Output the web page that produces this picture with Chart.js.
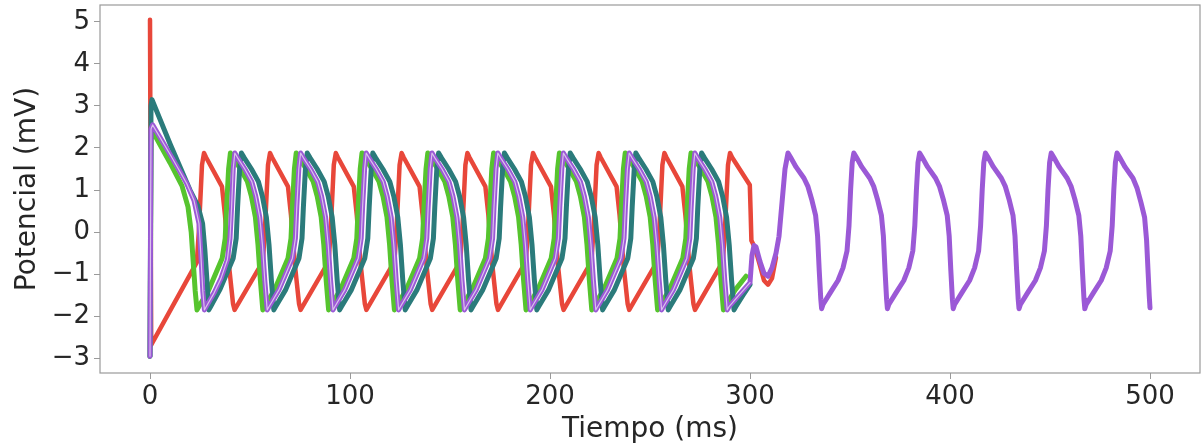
<!DOCTYPE html>
<html>
<head>
<meta charset="utf-8">
<script src="https://cdn.jsdelivr.net/npm/chart.js@4/dist/chart.umd.min.js"></script>
<style>
  html, body { margin: 0; padding: 0; background: #fff; }
  #wrap { width: 1203px; height: 448px; position: relative; }
</style>
</head>
<body>
<div id="wrap"><canvas id="chart"></canvas></div>
<script>
// ---- data: [tiempo (ms), potencial (mV)] ----
var xTicks = [0, 100, 200, 300, 400, 500];
var yTicks = [-3, -2, -1, 0, 1, 2, 3, 4, 5];

var redPts = [
  [0,5.05],[0.6,-2.68],[23.4,-0.72],[24.4,0.0],[26.0,1.6],
  [27.0,1.88],[28.0,1.78],[36.0,1.08],[37.5,0.4],[39.5,-0.8],[41.5,-1.7],[42.3,-1.85],[56.4,-0.7],[57.4,0.0],[59.0,1.6],
  [60.0,1.88],[61.0,1.78],[69.0,1.08],[70.5,0.4],[72.5,-0.8],[74.5,-1.7],[75.3,-1.85],[89.3,-0.7],[90.3,0.0],[91.9,1.6],
  [92.9,1.88],[93.9,1.78],[101.9,1.08],[103.4,0.4],[105.4,-0.8],[107.4,-1.7],[108.2,-1.85],[122.2,-0.7],[123.2,0.0],[124.8,1.6],
  [125.8,1.88],[126.8,1.78],[134.8,1.08],[136.3,0.4],[138.3,-0.8],[140.3,-1.7],[141.1,-1.85],[155.1,-0.7],[156.1,0.0],[157.7,1.6],
  [158.7,1.88],[159.7,1.78],[167.7,1.08],[169.2,0.4],[171.2,-0.8],[173.2,-1.7],[174.0,-1.85],[187.9,-0.7],[188.9,0.0],[190.5,1.6],
  [191.5,1.88],[192.5,1.78],[200.5,1.08],[202.0,0.4],[204.0,-0.8],[206.0,-1.7],[206.8,-1.85],[220.7,-0.7],[221.7,0.0],[223.3,1.6],
  [224.3,1.88],[225.3,1.78],[233.3,1.08],[234.8,0.4],[236.8,-0.8],[238.8,-1.7],[239.6,-1.85],[253.6,-0.7],[254.6,0.0],[256.2,1.6],
  [257.2,1.88],[258.2,1.78],[266.2,1.08],[267.7,0.4],[269.7,-0.8],[271.7,-1.7],[272.5,-1.85],[286.4,-0.7],[287.4,0.0],[289.0,1.6],
  [290.0,1.88],[291.0,1.78],[299.9,1.12],[300.3,0.5],[300.7,-0.2],[302.5,-0.38],[305,-0.8],[307,-1.15],[309,-1.25],[311,-1.1],[313,-0.6]
];

var greenPts = [
  [0,-2.95],[0.6,2.3],[1.3,2.4],[10,1.65],[16,1.1],[19,0.6],[20.6,0.0],[21.6,-0.7],[22.6,-1.4],[23.5,-1.85],
  [24.3,-1.78],[29.3,-1.38],[36.1,-0.62],[37.6,-0.15],[38.3,0.6],[39.3,1.5],
  [40.2,1.88],[41.7,1.76],[45.2,1.5],[48.7,1.2],[50.7,0.85],[52.7,0.35],[54.0,-0.3],[55.2,-1.15],[56.4,-1.85],[57.2,-1.78],[62.2,-1.38],[69.0,-0.62],[70.5,-0.15],[71.2,0.6],[72.2,1.5],
  [73.1,1.88],[74.6,1.76],[78.1,1.5],[81.6,1.2],[83.6,0.85],[85.6,0.35],[86.9,-0.3],[88.1,-1.15],[89.3,-1.85],[90.1,-1.78],[95.1,-1.38],[101.9,-0.62],[103.4,-0.15],[104.1,0.6],[105.1,1.5],
  [106.0,1.88],[107.5,1.76],[111.0,1.5],[114.5,1.2],[116.5,0.85],[118.5,0.35],[119.8,-0.3],[121.0,-1.15],[122.2,-1.85],[123.0,-1.78],[128.0,-1.38],[134.8,-0.62],[136.3,-0.15],[137.0,0.6],[138.0,1.5],
  [138.9,1.88],[140.4,1.76],[143.9,1.5],[147.4,1.2],[149.4,0.85],[151.4,0.35],[152.7,-0.3],[153.9,-1.15],[155.1,-1.85],[155.9,-1.78],[160.9,-1.38],[167.7,-0.62],[169.2,-0.15],[169.9,0.6],[170.9,1.5],
  [171.8,1.88],[173.3,1.76],[176.8,1.5],[180.3,1.2],[182.3,0.85],[184.3,0.35],[185.6,-0.3],[186.8,-1.15],[188.0,-1.85],[188.8,-1.78],[193.8,-1.38],[200.6,-0.62],[202.1,-0.15],[202.8,0.6],[203.8,1.5],
  [204.7,1.88],[206.2,1.76],[209.7,1.5],[213.2,1.2],[215.2,0.85],[217.2,0.35],[218.5,-0.3],[219.7,-1.15],[220.9,-1.85],[221.7,-1.78],[226.7,-1.38],[233.5,-0.62],[235.0,-0.15],[235.7,0.6],[236.7,1.5],
  [237.6,1.88],[239.1,1.76],[242.6,1.5],[246.1,1.2],[248.1,0.85],[250.1,0.35],[251.4,-0.3],[252.6,-1.15],[253.8,-1.85],[254.6,-1.78],[259.6,-1.38],[266.4,-0.62],[267.9,-0.15],[268.6,0.6],[269.6,1.5],
  [270.5,1.88],[272.0,1.76],[275.5,1.5],[279.0,1.2],[281.0,0.85],[283.0,0.35],[284.3,-0.3],[285.5,-1.15],[286.7,-1.85],[287.5,-1.78],[292.5,-1.38],[298.0,-1.05]
];

var tealPts = [
  [0,-2.95],[0.5,3.0],[1.0,3.15],[10,2.1],[20,1.0],[24,0.62],[26.3,0.2],[27.4,-0.4],[28.4,-1.1],[29.4,-1.85],
  [30.2,-1.78],[34.8,-1.38],[41.6,-0.62],[43.1,-0.15],[43.8,0.6],[44.8,1.5],
  [45.7,1.88],[47.2,1.76],[50.7,1.5],[54.2,1.2],[56.2,0.85],[58.2,0.35],[59.5,-0.3],[60.7,-1.15],[61.9,-1.85],[62.7,-1.78],[67.7,-1.38],[74.5,-0.62],[76.0,-0.15],[76.7,0.6],[77.7,1.5],
  [78.6,1.88],[80.1,1.76],[83.6,1.5],[87.1,1.2],[89.1,0.85],[91.1,0.35],[92.4,-0.3],[93.6,-1.15],[94.8,-1.85],[95.6,-1.78],[100.6,-1.38],[107.4,-0.62],[108.9,-0.15],[109.6,0.6],[110.6,1.5],
  [111.4,1.88],[112.9,1.76],[116.4,1.5],[119.9,1.2],[121.9,0.85],[123.9,0.35],[125.2,-0.3],[126.4,-1.15],[127.6,-1.85],[128.4,-1.78],[133.4,-1.38],[140.2,-0.62],[141.7,-0.15],[142.4,0.6],[143.4,1.5],
  [144.3,1.88],[145.8,1.76],[149.3,1.5],[152.8,1.2],[154.8,0.85],[156.8,0.35],[158.1,-0.3],[159.3,-1.15],[160.5,-1.85],[161.3,-1.78],[166.3,-1.38],[173.1,-0.62],[174.6,-0.15],[175.3,0.6],[176.3,1.5],
  [177.2,1.88],[178.7,1.76],[182.2,1.5],[185.7,1.2],[187.7,0.85],[189.7,0.35],[191.0,-0.3],[192.2,-1.15],[193.4,-1.85],[194.2,-1.78],[199.2,-1.38],[206.0,-0.62],[207.5,-0.15],[208.2,0.6],[209.2,1.5],
  [210.1,1.88],[211.6,1.76],[215.1,1.5],[218.6,1.2],[220.6,0.85],[222.6,0.35],[223.9,-0.3],[225.1,-1.15],[226.3,-1.85],[227.1,-1.78],[232.1,-1.38],[238.9,-0.62],[240.4,-0.15],[241.1,0.6],[242.1,1.5],
  [242.9,1.88],[244.4,1.76],[247.9,1.5],[251.4,1.2],[253.4,0.85],[255.4,0.35],[256.7,-0.3],[257.9,-1.15],[259.1,-1.85],[259.9,-1.78],[264.9,-1.38],[271.7,-0.62],[273.2,-0.15],[273.9,0.6],[274.9,1.5],
  [275.8,1.88],[277.3,1.76],[280.8,1.5],[284.3,1.2],[286.3,0.85],[288.3,0.35],[289.6,-0.3],[290.8,-1.15],[292.0,-1.85],[292.8,-1.78],[296.5,-1.5],[300,-1.25]
];

var purplePts = [
  [0,-2.95],[0.5,2.45],[1.3,2.55],[10,1.85],[18.3,1.16],[22,0.75],[24.5,0.2],[25.5,-0.6],[26.4,-1.4],[27.2,-1.85],
  [28,-1.78],[32,-1.45],[35.5,-1.1],[38.7,-0.65],[40,-0.15],[40.8,0.6],[41.6,1.5],
  [42.4,1.88],[43.9,1.76],[47.4,1.5],[50.9,1.2],[52.9,0.85],[54.9,0.35],[56.2,-0.3],[57.4,-1.15],[58.6,-1.85],[59.4,-1.78],[64.4,-1.38],[71.2,-0.62],[72.7,-0.15],[73.4,0.6],[74.4,1.5],
  [75.3,1.88],[76.8,1.76],[80.3,1.5],[83.8,1.2],[85.8,0.85],[87.8,0.35],[89.1,-0.3],[90.3,-1.15],[91.5,-1.85],[92.3,-1.78],[97.3,-1.38],[104.1,-0.62],[105.6,-0.15],[106.3,0.6],[107.3,1.5],
  [108.1,1.88],[109.6,1.76],[113.1,1.5],[116.6,1.2],[118.6,0.85],[120.6,0.35],[121.9,-0.3],[123.1,-1.15],[124.3,-1.85],[125.1,-1.78],[130.1,-1.38],[136.9,-0.62],[138.4,-0.15],[139.1,0.6],[140.1,1.5],
  [141.0,1.88],[142.5,1.76],[146.0,1.5],[149.5,1.2],[151.5,0.85],[153.5,0.35],[154.8,-0.3],[156.0,-1.15],[157.2,-1.85],[158.0,-1.78],[163.0,-1.38],[169.8,-0.62],[171.3,-0.15],[172.0,0.6],[173.0,1.5],
  [173.9,1.88],[175.4,1.76],[178.9,1.5],[182.4,1.2],[184.4,0.85],[186.4,0.35],[187.7,-0.3],[188.9,-1.15],[190.1,-1.85],[190.9,-1.78],[195.9,-1.38],[202.7,-0.62],[204.2,-0.15],[204.9,0.6],[205.9,1.5],
  [206.7,1.88],[208.2,1.76],[211.7,1.5],[215.2,1.2],[217.2,0.85],[219.2,0.35],[220.5,-0.3],[221.7,-1.15],[222.9,-1.85],[223.7,-1.78],[228.7,-1.38],[235.5,-0.62],[237.0,-0.15],[237.7,0.6],[238.7,1.5],
  [239.6,1.88],[241.1,1.76],[244.6,1.5],[248.1,1.2],[250.1,0.85],[252.1,0.35],[253.4,-0.3],[254.6,-1.15],[255.8,-1.85],[256.6,-1.78],[261.6,-1.38],[268.4,-0.62],[269.9,-0.15],[270.6,0.6],[271.6,1.5],
  [272.4,1.88],[273.9,1.76],[277.4,1.5],[280.9,1.2],[282.9,0.85],[284.9,0.35],[286.2,-0.3],[287.4,-1.15],[288.6,-1.85],[289.4,-1.78],[294.5,-1.5],[300,-1.2],
  [301,-0.55],[302,-0.32],[303,-0.35],[305,-0.7],[307,-0.98],[309,-1.05],[311,-0.85],[313,-0.5],[314.5,-0.1],[316,0.7],[317.5,1.5],
  [319.0,1.88],[320.5,1.76],[323.0,1.55],[327.0,1.28],[329.0,1.08],[331.0,0.75],[332.8,0.4],[333.8,-0.1],[334.6,-0.9],[335.4,-1.6],[335.8,-1.82],[336.5,-1.72],[340.0,-1.45],[344.0,-1.15],[346.5,-0.85],[348.5,-0.45],[349.5,0.15],[350.3,1.0],[351.1,1.65],
  [351.9,1.88],[353.4,1.76],[355.9,1.55],[359.9,1.28],[361.9,1.08],[363.9,0.75],[365.7,0.4],[366.7,-0.1],[367.5,-0.9],[368.3,-1.6],[368.7,-1.82],[369.4,-1.72],[372.9,-1.45],[376.9,-1.15],[379.4,-0.85],[381.4,-0.45],[382.4,0.15],[383.2,1.0],[384.0,1.65],
  [384.8,1.88],[386.3,1.76],[388.8,1.55],[392.8,1.28],[394.8,1.08],[396.8,0.75],[398.6,0.4],[399.6,-0.1],[400.4,-0.9],[401.2,-1.6],[401.6,-1.82],[402.3,-1.72],[405.8,-1.45],[409.8,-1.15],[412.3,-0.85],[414.3,-0.45],[415.3,0.15],[416.1,1.0],[416.9,1.65],
  [417.7,1.88],[419.2,1.76],[421.7,1.55],[425.7,1.28],[427.7,1.08],[429.7,0.75],[431.5,0.4],[432.5,-0.1],[433.3,-0.9],[434.1,-1.6],[434.5,-1.82],[435.2,-1.72],[438.7,-1.45],[442.7,-1.15],[445.2,-0.85],[447.2,-0.45],[448.2,0.15],[449.0,1.0],[449.8,1.65],
  [450.6,1.88],[452.1,1.76],[454.6,1.55],[458.6,1.28],[460.6,1.08],[462.6,0.75],[464.4,0.4],[465.4,-0.1],[466.2,-0.9],[467.0,-1.6],[467.4,-1.82],[468.1,-1.72],[471.6,-1.45],[475.6,-1.15],[478.1,-0.85],[480.1,-0.45],[481.1,0.15],[481.9,1.0],[482.7,1.65],
  [483.5,1.88],[485.0,1.76],[487.5,1.55],[491.5,1.28],[493.5,1.05],[495.5,0.7],[497.3,0.35],[498.3,-0.2],[499.1,-1.0],[499.6,-1.5],[500,-1.8]
];

function toXY(pts) {
  return pts.map(function (p) { return { x: p[0], y: p[1] }; });
}

// thin pale stripe that runs inside the purple trace up to 300 ms
var paleXY = toXY(purplePts.filter(function (p) { return p[0] <= 300; }));

var frame = {
  id: 'frame',
  afterDraw: function (chart) {
    var a = chart.chartArea, ctx = chart.ctx;
    ctx.save();
    ctx.strokeStyle = '#9a9a9a';
    ctx.lineWidth = 1.2;
    ctx.strokeRect(a.left, a.top, a.right - a.left, a.bottom - a.top);
    ctx.restore();
  }
};

function line(label, pts, color, width) {
  return {
    label: label,
    data: pts,
    borderColor: color,
    backgroundColor: color,
    borderWidth: width,
    pointRadius: 0,
    tension: 0,
    fill: false,
    borderJoinStyle: 'round',
    borderCapStyle: 'round'
  };
}

// no extra room around the plot for the end tick labels
function noPad(s) {
  s.paddingTop = 0; s.paddingBottom = 0; s.paddingLeft = 0; s.paddingRight = 0;
}

var tickFont = { family: 'DejaVu Sans', size: 26 };
var titleFont = { family: 'DejaVu Sans', size: 28 };

new Chart(document.getElementById('chart'), {
  type: 'line',
  data: {
    // first dataset is drawn on top
    datasets: [
      line('pale', paleXY, 'rgba(240,228,244,0.75)', 1.2),
      line('purple', toXY(purplePts), '#9b59d6', 5),
      line('teal', toXY(tealPts), '#2b7b7b', 5),
      line('green', toXY(greenPts), '#56c42e', 5),
      line('red', toXY(redPts), '#e8473a', 4.5)
    ]
  },
  options: {
    responsive: true,
    maintainAspectRatio: false,
    animation: false,
    layout: { autoPadding: false, padding: { top: 5, right: 3, bottom: 0, left: 0 } },
    plugins: { legend: { display: false }, tooltip: { enabled: false } },
    scales: {
      x: {
        type: 'linear',
        min: -25,
        max: 525,
        afterBuildTicks: function (s) { s.ticks = xTicks.map(function (v) { return { value: v }; }); },
        afterFit: function (s) { s.height = 75; noPad(s); },
        grid: { drawOnChartArea: false, drawTicks: true, tickLength: 6, tickColor: '#9a9a9a' },
        border: { display: false },
        ticks: { font: tickFont, color: '#262626', padding: 3, maxRotation: 0 },
        title: { display: true, text: 'Tiempo (ms)', font: titleFont, color: '#262626', padding: { top: 0, bottom: 1 } }
      },
      y: {
        min: -3.35,
        max: 5.4,
        afterBuildTicks: function (s) { s.ticks = yTicks.map(function (v) { return { value: v }; }); },
        afterFit: function (s) { s.width = 100; noPad(s); },
        grid: { drawOnChartArea: false, drawTicks: true, tickLength: 6, tickColor: '#9a9a9a' },
        border: { display: false },
        ticks: {
          font: tickFont, color: '#262626', padding: 4,
          callback: function (v) { return v < 0 ? '\u2212' + Math.abs(v) : String(v); }
        },
        title: { display: true, text: 'Potencial (mV)', font: titleFont, color: '#262626', padding: { top: 11, bottom: 0 } }
      }
    }
  },
  plugins: [frame]
});
</script>
</body>
</html>
